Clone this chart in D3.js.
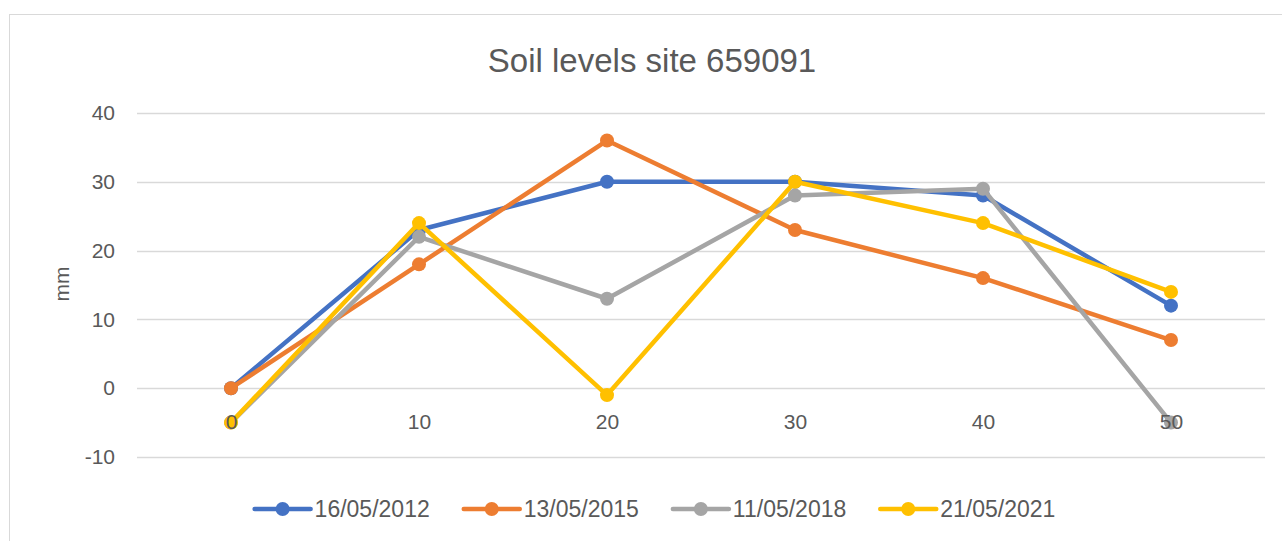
<!DOCTYPE html>
<meta charset="utf-8">
<body style="margin:0;background:#fff">
<script src="https://cdn.jsdelivr.net/npm/d3@7"></script>
<script>
// chart values
var depths = ["0", "10", "20", "30", "40", "50"];
var seriesNames = ["16/05/2012", "13/05/2015", "11/05/2018", "21/05/2021"];
var s2012 = [0, 23, 30, 30, 28, 12];
var s2015 = [0, 18, 36, 23, 16, 7];
var s2018 = [-5, 22, 13, 28, 29, -5];
var s2021 = [-5, 24, -1, 30, 24, 14];
var yTicks = [-10, 0, 10, 20, 30, 40];
var colors = ["#4472C4", "#ED7D31", "#A5A5A5", "#FFC000"];

var width = 1282, height = 541;
var font = "'Liberation Sans', Arial, sans-serif";
var textCol = "#595959";

var svg = d3.select("body").append("svg")
    .attr("width", width)
    .attr("height", height)
    .style("font-family", font);

// chart area border
svg.append("rect")
    .attr("x", 9.5).attr("y", 14.5)
    .attr("width", 1286).attr("height", 560)
    .attr("fill", "#fff")
    .attr("stroke", "#D9D9D9");

svg.append("text")
    .attr("x", 652).attr("y", 72)
    .attr("text-anchor", "middle")
    .style("font-size", "33px")
    .attr("fill", textCol)
    .text("Soil levels site 659091");

var x = d3.scalePoint().domain(depths).range([137, 1265]).padding(0.5);
var y = d3.scaleLinear().domain([-10, 40]).range([457, 113]);

// gridlines
svg.append("g").selectAll("line")
    .data(yTicks)
    .enter().append("line")
    .attr("x1", 137).attr("x2", 1265)
    .attr("y1", d => Math.round(y(d)) + 0.5)
    .attr("y2", d => Math.round(y(d)) + 0.5)
    .attr("stroke", "#D9D9D9")
    .attr("stroke-width", 1.3);

var yAxis = svg.append("g")
    .attr("transform", "translate(137,0)")
    .call(d3.axisLeft(y).tickValues(yTicks).tickFormat(d => String(d)).tickSize(0).tickPadding(22));
yAxis.select(".domain").remove();
yAxis.selectAll("text").style("font-size", "21px").style("font-family", font).attr("fill", textCol);

svg.append("text")
    .attr("transform", "translate(69,284) rotate(-90)")
    .attr("text-anchor", "middle")
    .style("font-size", "21px")
    .attr("fill", textCol)
    .text("mm");

var allSeries = [s2012, s2015, s2018, s2021];
var line = d3.line()
    .x((d, i) => x(depths[i]))
    .y(d => y(d));

// category axis crosses at 0
var xAxis = svg.append("g")
    .attr("transform", "translate(0," + y(0) + ")")
    .call(d3.axisBottom(x).tickSize(0).tickPadding(26));
xAxis.select(".domain").remove();
xAxis.selectAll("text").style("font-size", "21px").style("font-family", font).attr("fill", textCol);

allSeries.forEach(function(vals, k) {
  var g = svg.append("g");
  g.append("path")
    .datum(vals)
    .attr("d", line)
    .attr("fill", "none")
    .attr("stroke", colors[k])
    .attr("stroke-width", 4.5)
    .attr("stroke-linejoin", "round")
    .attr("stroke-linecap", "round");
  g.selectAll("circle")
    .data(vals)
    .enter().append("circle")
    .attr("cx", (d, i) => x(depths[i]))
    .attr("cy", d => y(d))
    .attr("r", 7)
    .attr("fill", colors[k]);
});

// x labels sit on top of the lines, as in the source
xAxis.raise();

// legend
var legend = svg.append("g");
var items = legend.selectAll("g")
    .data(seriesNames)
    .enter().append("g");
items.append("line")
    .attr("x1", 0).attr("x2", 56)
    .attr("y1", 0).attr("y2", 0)
    .attr("stroke", (d, i) => colors[i])
    .attr("stroke-width", 4.5)
    .attr("stroke-linecap", "round");
items.append("circle")
    .attr("cx", 28).attr("cy", 0).attr("r", 7)
    .attr("fill", (d, i) => colors[i]);
items.append("text")
    .attr("x", 60).attr("y", 0).attr("dy", "0.35em")
    .style("font-size", "23px")
    .attr("fill", textCol)
    .text(d => d);

var widths = [];
items.each(function() { widths.push(this.getBBox().width); });
var gap = 34;
var total = d3.sum(widths) + gap * (widths.length - 1);
var pos = 655 - total / 2;
items.attr("transform", function(d, i) {
  var t = "translate(" + pos + ",509)";
  pos += widths[i] + gap;
  return t;
});
</script>
</body>
